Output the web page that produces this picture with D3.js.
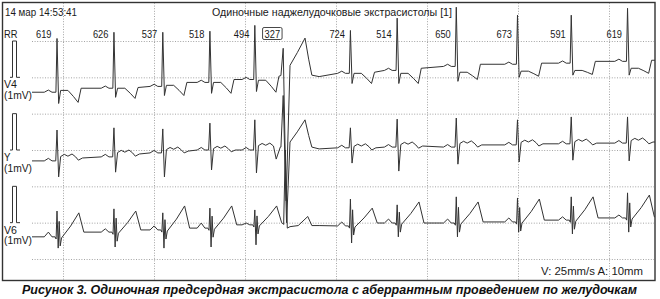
<!DOCTYPE html>
<html><head><meta charset="utf-8">
<script src="https://cdn.jsdelivr.net/npm/d3@7"></script>
<style>body{margin:0;background:#fff}svg{display:block}</style>
</head><body><svg id="c" width="660" height="299"></svg>
<script>
// ---------- data ----------
const headerDate = "14 мар 14:53:41";
const headerTitle = "Одиночные наджелудочковые экстрасистолы  [1]";
const captionText = "Рисунок 3. Одиночная предсердная экстрасистола с аберрантным проведением по желудочкам";
const speedLabel = "V: 25mm/s  A: 10mm";
const leadNames = ["V4", "Y", "V6"];
const leadUnit = "(1mV)";
const rrIntervals = [619, 626, 537, 518, 494, 327, 724, 514, 650, 673, 591, 619];
const beatTypes = ["N","N","N","N","N","A","N","N","N","N","N","N"];
const firstBeatMs = -65;               // time of first R wave (ms, 0 = first 1 s grid line)
const secondTicks = [0, 1000, 2000, 3000, 4000, 5000, 6000];
const mvRows = [0, 1, 2, 3, 4, 5, 6];   // 10 mm rows

// V4 (mV)
const v4Pre  = [-0.41,-0.30,-0.25,-0.14,-0.06,null,0.11,0.19,0.30,0.36,0.39,0.44];
const v4R    = [ 1.07, 1.24, 1.24, 1.27, 1.43,null,1.29,1.63,1.93,1.71,1.71,1.90];
const v4S    = [-0.72,-0.55,-0.50,-0.44,-0.39,null,-0.17,-0.17,-0.11,0.00,0.06,0.06];
const v4ST   = [-0.36,-0.30,-0.22,-0.14,-0.08,null,0.11,0.11,0.14,0.17,0.19,0.25];
const v4T    = [-0.69,-0.58,-0.50,-0.44,-0.41,null,-0.17,-0.17,-0.06,0.03,0.08,0.11];
const v4Post = [-0.30,-0.28,-0.14,-0.06, 0.03,null,0.14,0.25,0.36,0.39,0.44,0.47];
// Y (mV)
const yPre  = [-0.30,-0.19,-0.08,0.00,0.00,null,0.06,0.08,0.08,0.14,0.17,0.19];
const yR    = [ 0.55, 0.61, 0.58,0.74,0.83,null,0.61,0.85,0.88,0.83,0.91,0.91];
const yS    = [-0.74,-0.61,-0.74,-0.55,-0.63,null,-0.36,-0.58,-0.39,-0.33,-0.28,-0.30];
const yT    = [-0.28,-0.17,-0.08,-0.05,-0.25,null,0.00,0.05,0.08,0.11,0.14,0.17];
const yPost = [-0.22,-0.11,-0.03,0.00,0.08,null,0.06,0.11,0.14,0.17,0.19,0.22];
// V6 (mV)
const v6Pre  = [-0.39,-0.26,-0.20,-0.15,-0.06,null,-0.09,-0.01,-0.01,0.02,0.07,0.13];
const v6P    = [-0.26,-0.17,-0.09,-0.01,-0.01,null,0.02,0.10,0.10,0.13,0.16,0.21];
const v6R    = [ 0.32, 0.38, 0.27, 0.40, 0.35,null,0.65,0.49,0.71,0.68,0.71,0.82];
const v6S    = [-0.70,-0.67,-0.70,-0.67,-0.61,null,-0.56,-0.39,-0.39,-0.26,-0.31,-0.26];
const v6T    = [ 0.27, 0.32, 0.46, 0.46, 0.46,null,0.40,0.57,0.57,0.65,0.71,0.76];
const v6Post = [-0.26,-0.20,-0.15,-0.06, 0.00,null,-0.01,-0.01,0.02,0.07,0.13,0.16];
// aberrant complex [ms from R, mV]
const v4Aberrant = [[-40,0.05],[-15,0.80],[17,-3.40],[60,0.33],[140,0.68],[225,1.08],[265,0.50],[300,0.06],[380,0.02]];
const yAberrant  = [[-40,0.08],[-15,1.50],[22,-2.00],[60,0.22],[140,0.50],[225,0.83],[265,0.40],[300,0.08],[380,0.03]];
const v6Aberrant = [[-30,0.00],[-10,-0.05],[8,2.00],[30,-0.15],[60,-0.11],[150,-0.08],[255,0.17],[300,-0.08],[380,-0.08]];

// ---------- scales ----------
const svg = d3.select("#c");
const x = d3.scaleLinear().domain([-340, 6510]).range([32, 655]);
const row = d3.scaleLinear().domain([0, 6]).range([41, 259]);
const leadZeroRow = [1, 3, 5];
const yLead = k => (mv => row(leadZeroRow[k] - mv));

// beat times
const beatTimes = [];
rrIntervals.forEach((rr, i) => beatTimes.push(i === 0 ? firstBeatMs : beatTimes[i-1] + rr));

// ---------- frame & grid ----------
svg.append("rect").attr("x",2.5).attr("y",2.5).attr("width",652.5).attr("height",278)
  .attr("fill","none").attr("stroke","#333").attr("stroke-width",1.4);
const grid = svg.append("g").attr("stroke","#9a9a9a").attr("stroke-width",0.9).attr("stroke-dasharray","1,1.6");
grid.selectAll(".h").data(mvRows).join("line")
  .attr("x1",32).attr("x2",654).attr("y1",d=>row(d)+0.5).attr("y2",d=>row(d)+0.5);
grid.selectAll(".v").data(secondTicks).join("line")
  .attr("x1",d=>Math.round(x(d))+0.5).attr("x2",d=>Math.round(x(d))+0.5).attr("y1",3).attr("y2",280);

// ---------- build traces ----------
function v4Beat(i, t) {
  const p = v4Pre[i], st = v4ST[i];
  return [[-140,p],[-95,p+0.06],[-55,p],[-12,p],[0,v4R[i]],[18,v4S[i]],[40,st],[120,st],
          [180,st+0.5*(v4T[i]-st)],[232,v4T[i]],[265,v4Post[i]]].map(d=>[t+d[0],d[1]]);
}
function yBeat(i, t) {
  const p = yPre[i], q = yPost[i];
  return [[-140,p],[-95,p+0.07],[-55,p],[-14,p],[0,yR[i]],[18,yS[i]],[40,q+0.04],[80,q+0.10],
          [120,q+0.05],[165,q+0.11],[205,q+0.03],[235,yT[i]],[280,q]].map(d=>[t+d[0],d[1]]);
}
function v6Beat(i, t) {
  const p = v6Pre[i];
  return [[-140,p],[-95,v6P[i]],[-55,p],[-22,p],[-10,p-0.06],[0,v6R[i]],[13,v6S[i]],
          [24,p+0.6*(v6R[i]-p)],[35,p-0.25],[50,p-0.03],[150,p+0.45*(v6T[i]-p)],
          [240,v6T[i]],[295,v6Post[i]]].map(d=>[t+d[0],d[1]]);
}
const builders = [v4Beat, yBeat, v6Beat];
const aberrants = [v4Aberrant, yAberrant, v6Aberrant];
const preArrays = [v4Pre, yPre, v6Pre];
const postArrays = [v4Post, yPost, v6Post];

const traces = [0,1,2].map(k => {
  let pts = [[x.domain()[0], preArrays[k][0]]];
  beatTimes.forEach((t, i) => {
    if (beatTypes[i] === "A") pts = pts.concat(aberrants[k].map(d => [t + d[0], d[1]]));
    else pts = pts.concat(builders[k](i, t));
  });
  pts.push([x.domain()[1], postArrays[k][postArrays[k].length-1]]);
  pts.sort((a,b)=>a[0]-b[0]);
  return pts;
});

traces.forEach((pts, k) => {
  const yl = yLead(k);
  svg.append("path").datum(pts)
    .attr("d", d3.line().x(d => x(d[0])).y(d => yl(d[1])))
    .attr("fill","none").attr("stroke","#333").attr("stroke-width",1)
    .attr("stroke-linejoin","round");
  // calibration pulse 1 mV
  const z = yl(0), top = yl(1);
  svg.append("path").attr("d", `M10,${z} H12.5 V${top} H16.5 V${z} H20`)
    .attr("fill","none").attr("stroke","#333").attr("stroke-width",1);
});

// ---------- texts ----------
const FONT = "'Liberation Sans',Arial,sans-serif";
const txt = (s, xx, yy, size, len, anchor) => {
  const t = svg.append("text").attr("x",xx).attr("y",yy).text(s)
    .attr("font-family",FONT).attr("font-size",size).attr("fill","#1a1a1a")
    .attr("text-anchor",anchor||"start");
  if (len) t.attr("textLength",len).attr("lengthAdjust","spacingAndGlyphs");
  return t;
};
txt(headerDate, 5, 15.5, 11.5, 72);
txt(headerTitle, 212, 15.5, 11.5, 240);
txt("RR", 4, 37.5, 11.5, 13.5);
rrIntervals.forEach((rr, i) => {
  const xe = x(beatTimes[i]) - (beatTypes[i]==="A" ? 4.5 : 5.5);
  txt(String(rr), xe, 37.5, 11.5, 15.5, "end");
  if (beatTypes[i] === "A") {
    svg.append("rect").attr("x", xe-17.5).attr("y",27.5).attr("width",19.5).attr("height",12)
      .attr("rx",1.5).attr("fill","none").attr("stroke","#333").attr("stroke-width",0.9);
  }
});
leadNames.forEach((n, k) => {
  const z = yLead(k)(0);
  txt(n, 4, z + 11, 11.5, n.length === 1 ? 6.5 : 13);
  txt(leadUnit, 4, z + 21.5, 11.5, 28);
});
txt(speedLabel, 541, 274.5, 11, 102);
svg.append("text").attr("x",22).attr("y",294).text(captionText)
  .attr("font-family","'Liberation Sans',Arial,sans-serif").attr("font-size",12.5)
  .attr("font-weight","bold").attr("font-style","italic").attr("fill","#111")
  .attr("textLength",615).attr("lengthAdjust","spacingAndGlyphs");
</script></body></html>
